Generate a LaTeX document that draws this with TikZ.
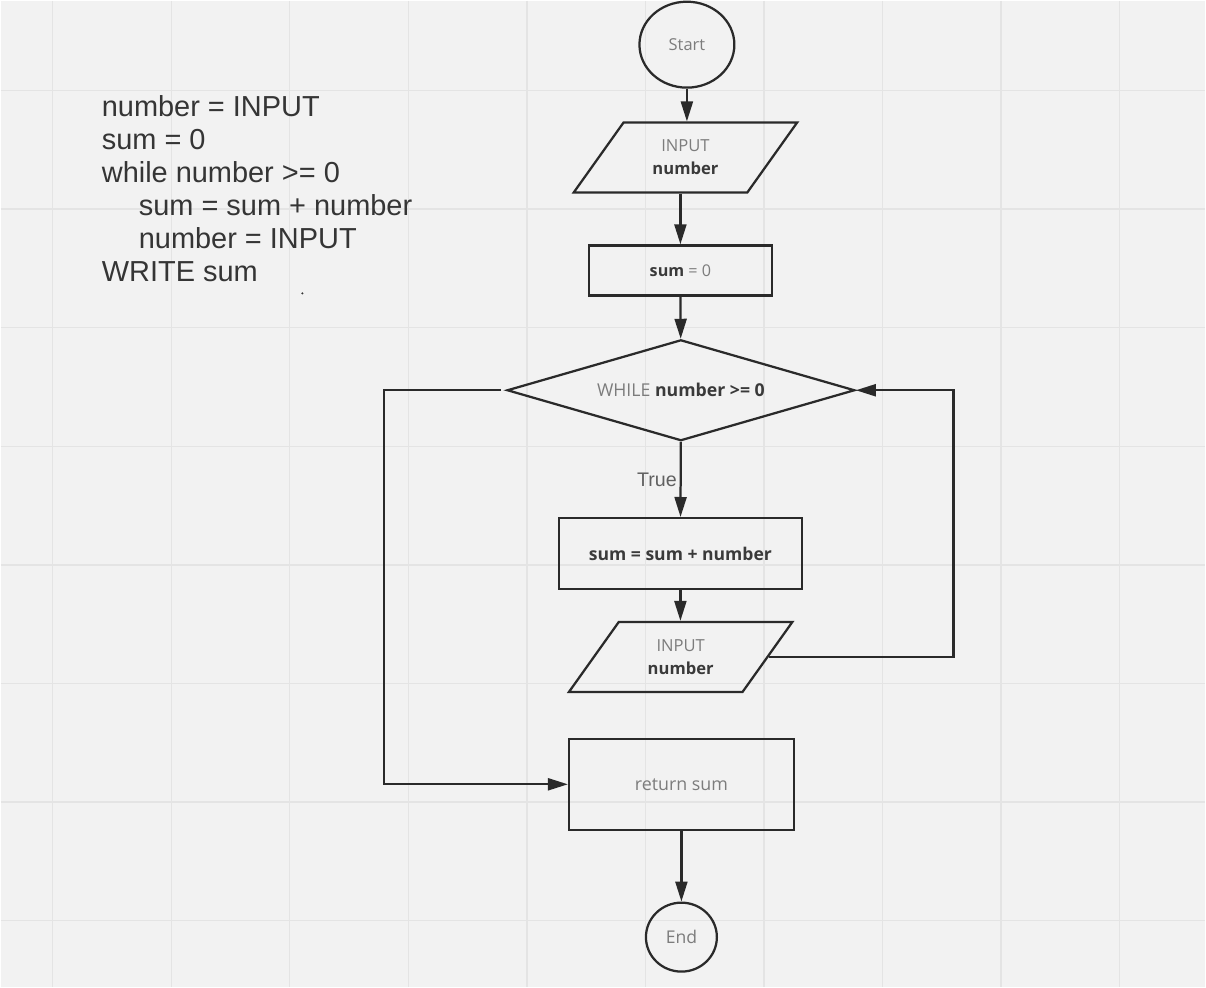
\documentclass[tikz,border=0pt]{standalone}
\usepackage{fontspec}
\usepackage{xcolor}
\usepackage{tikz}
\usetikzlibrary{shapes.geometric,arrows.meta}
\setmainfont{Liberation Sans}
\newfontfamily\flowfont{Open Sans}
\definecolor{bg}{HTML}{F2F2F2}
\definecolor{gridc}{HTML}{E4E4E4}
\definecolor{ink}{HTML}{2A2A2A}
\definecolor{lite}{HTML}{7C7C7C}
\definecolor{dark}{HTML}{3A3A3A}
\definecolor{code}{HTML}{353535}

\begin{document}
\begin{tikzpicture}[x=0.025cm, y=-0.025cm,
    outline/.style={draw=ink, line width=1.6pt},
    flowtext/.style={font=\flowfont\fontsize{#1}{16.5}\selectfont, text=lite, align=center},
    flowtext/.default=11.8,
    term/.style={outline, ellipse, inner sep=0pt},
    io/.style={outline, flowtext, trapezium, trapezium left angle=53, trapezium right angle=127,
        trapezium stretches=true, minimum width=56mm, minimum height=17.5mm, inner sep=0pt},
    box/.style={outline, rectangle, inner sep=0pt},
    cond/.style={outline, flowtext=12.6, diamond, aspect=3.45, minimum width=87mm, minimum height=25.25mm, inner sep=0pt},
    arr/.style={draw=ink, line width=1.6pt, -{Triangle[length=5mm,width=3mm]}}]

\fill[bg] (0,0) rectangle (1206,987);
\foreach \gx in {0,...,9}
    \draw[gridc, line width=1pt] ({52+118.7*\gx},0) -- ({52+118.7*\gx},987);
\foreach \gy in {0,...,7}
    \draw[gridc, line width=1pt] (0,{90+118.7*\gy}) -- (1206,{90+118.7*\gy});

\node[anchor=north west, inner sep=0pt, align=left, text=code,
    font=\fontsize{20.6}{23.5}\selectfont] (pseudo) at (101,95)
    {number = INPUT\\ sum = 0\\ while number >= 0\\
     \hspace*{9.25mm}sum = sum + number\\ \hspace*{9.25mm}number = INPUT\\ WRITE sum};
\fill[code] (302,293) circle (0.3mm);

\node[term, flowtext=11.7, minimum width=23.75mm, minimum height=21.5mm] (start) at (687,44) {Start};
\node[io] (in1) at (685.5,157) {INPUT\\ \textcolor{dark}{\textbf{number}}};
\node[box, flowtext=11.5, minimum width=45.75mm, minimum height=12.5mm] (init) at (680.5,270)
    {\textcolor{dark}{\textbf{sum}} = 0};
\node[cond] (test) at (681,390) {WHILE \textcolor{dark}{\textbf{number >= 0}}};
\node[box, flowtext=12.5, minimum width=60.75mm, minimum height=17.75mm] (add) at (680.5,553.5)
    {\textcolor{dark}{\textbf{sum = sum + number}}};
\node[io] (in2) at (680.75,657) {INPUT\\ \textcolor{dark}{\textbf{number}}};
\node[box, flowtext=12.7, minimum width=56.25mm, minimum height=22.75mm] (ret) at (681.5,784.5) {return sum};
\node[term, flowtext=12.5, minimum width=17.75mm, minimum height=17.25mm] (stop) at (681.5,937.5) {End};

\coordinate (backR) at (954,390);
\coordinate (exitL) at (384,390);

\draw[arr] (start) -- (start |- in1.north);
\draw[arr] (in1.south -| init) -- (init);
\draw[arr] (init) -- (test);
\draw[arr] (test) -- node[midway, left, inner sep=2pt, text=dark!80,
    font=\fontsize{14}{16}\selectfont] {True} (add);
\draw[arr] (add) -- (in2.north -| add);
\draw[arr] (in2.east) -| (backR) -- (test.east);
\draw[arr, shorten <=1.2mm] (test.west) -- (exitL) |- (ret.west);
\draw[arr] (ret) -- (stop);
\end{tikzpicture}
\end{document}
